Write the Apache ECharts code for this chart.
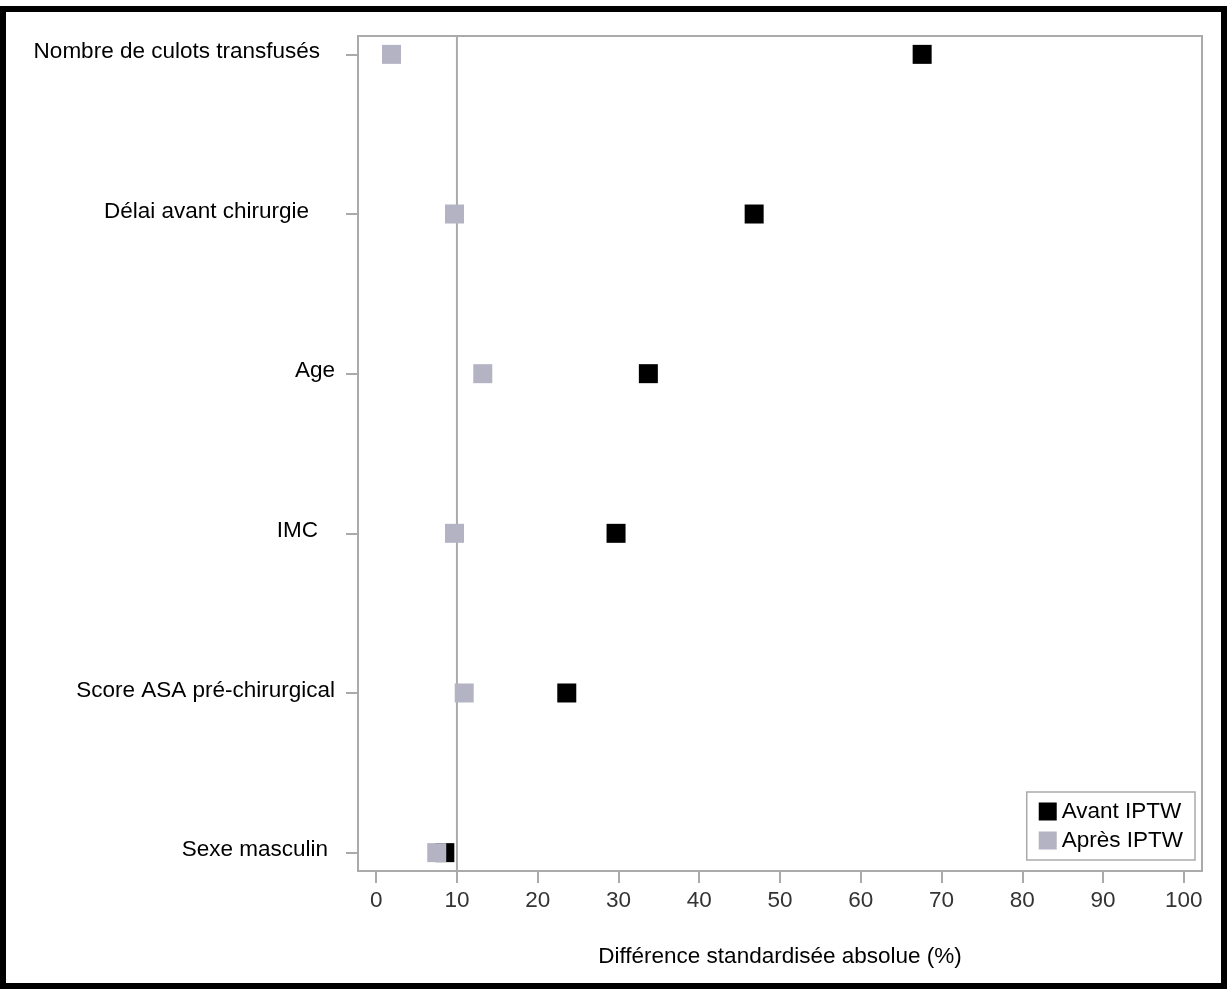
<!DOCTYPE html>
<html>
<head>
<meta charset="utf-8">
<script src="https://cdn.jsdelivr.net/npm/echarts@6/dist/echarts.min.js"></script>
<style>
html,body{margin:0;padding:0;background:#fff;}
#chart{width:1227px;height:990px;}
</style>
</head>
<body>
<div id="chart"></div>
<script>
// Categories from bottom (index 0) to top (index 5)
const categories = ['Sexe masculin', 'Score ASA pré-chirurgical', 'IMC', 'Age', 'Délai avant chirurgie', 'Nombre de culots transfusés'];
const avantIPTW = [8.5, 23.6, 29.7, 33.7, 46.8, 67.6];
const apresIPTW = [7.5, 10.9, 9.7, 13.2, 9.7, 1.9];
const xTicks = [0, 10, 20, 30, 40, 50, 60, 70, 80, 90, 100];
const yTicks = [0, 1, 2, 3, 4, 5];
const refLine = 10;
const seriesNames = ['Avant IPTW', 'Après IPTW'];

const FONT = '"Liberation Sans", Arial, sans-serif';
const FS = 22.5;
const labelPadRight = [7, 0, 17, 0, 26, 15];
const rich = {};
yTicks.forEach(i => {
  rich['r' + i] = { fontSize: FS, fontFamily: FONT, color: '#000', padding: [0, labelPadRight[i], 5, 0] };
});

const chart = echarts.init(document.getElementById('chart'), null, { renderer: 'canvas' });
chart.setOption({
  animation: false,
  backgroundColor: '#fff',
  textStyle: { fontFamily: FONT },
  graphic: [{
    type: 'rect',
    shape: { x: 3, y: 9, width: 1221, height: 977 },
    style: { fill: 'none', stroke: '#000', lineWidth: 6 },
    silent: true, z: 100
  }],
  grid: {
    left: 358, right: 25, top: 36, bottom: 119,
    show: true, borderColor: '#aaa', borderWidth: 2, backgroundColor: 'transparent'
  },
  legend: {
    orient: 'vertical',
    right: 32, bottom: 130,
    data: seriesNames,
    icon: 'rect',
    itemWidth: 18, itemHeight: 18, itemGap: 6,
    padding: [8, 12, 8, 12],
    borderColor: '#aaa', borderWidth: 1.5,
    backgroundColor: '#fff',
    textStyle: { fontSize: FS, fontFamily: FONT, color: '#000' }
  },
  xAxis: {
    type: 'value',
    min: -2.25, max: 102.25,
    name: 'Différence standardisée absolue (%)',
    nameLocation: 'middle', nameGap: 74,
    nameTextStyle: { fontSize: FS, fontFamily: FONT, color: '#000' },
    axisLine: { show: true, onZero: false, lineStyle: { color: '#aaa', width: 2 } },
    axisTick: { show: true, length: 12, customValues: xTicks, lineStyle: { color: '#aaa', width: 2 } },
    axisLabel: { customValues: xTicks, fontSize: FS, fontFamily: FONT, color: '#333', margin: 18 },
    splitLine: { show: false }
  },
  yAxis: {
    type: 'value',
    min: -0.115, max: 5.115,
    axisLine: { show: true, onZero: false, lineStyle: { color: '#aaa', width: 2 } },
    axisTick: { show: true, length: 12, customValues: yTicks, lineStyle: { color: '#aaa', width: 2 } },
    axisLabel: {
      customValues: yTicks,
      margin: 23,
      formatter: v => '{r' + v + '|' + categories[v] + '}',
      rich: rich
    },
    splitLine: { show: false }
  },
  series: [
    {
      type: 'line', name: 'ref', silent: true, symbol: 'none', z: 1,
      data: [[refLine, -0.115], [refLine, 5.115]],
      lineStyle: { color: '#aaa', width: 2 }
    },
    {
      type: 'scatter', name: seriesNames[0], symbol: 'rect', symbolSize: 19, z: 3,
      itemStyle: { color: '#000', opacity: 1 },
      data: avantIPTW.map((v, i) => [v, i])
    },
    {
      type: 'scatter', name: seriesNames[1], symbol: 'rect', symbolSize: 19, z: 4,
      itemStyle: { color: '#b3b3c4', opacity: 1 },
      data: apresIPTW.map((v, i) => [v, i])
    }
  ]
});
</script>
</body>
</html>
